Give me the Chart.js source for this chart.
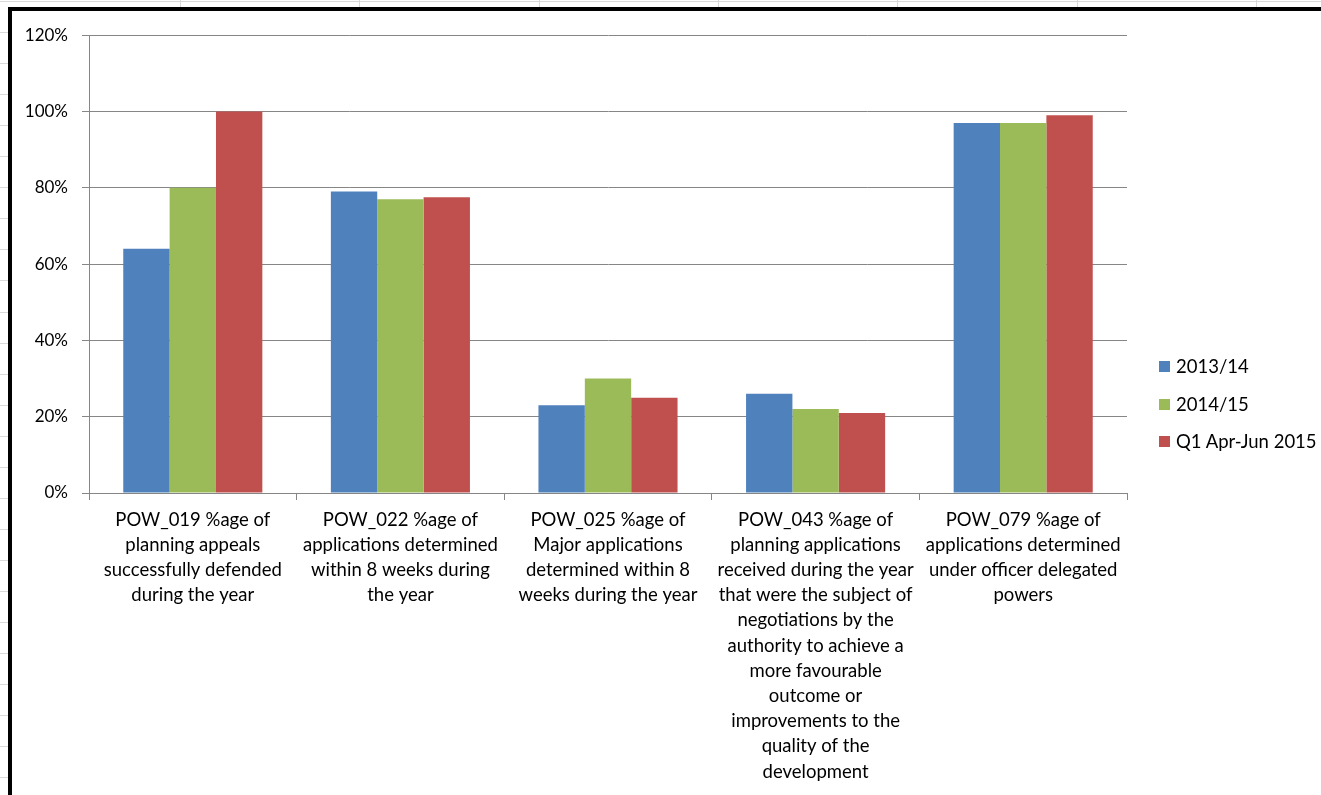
<!DOCTYPE html>
<html>
<head>
<meta charset="utf-8">
<script src="https://cdn.jsdelivr.net/npm/chart.js@4.4.1/dist/chart.umd.min.js"></script>
<style>
    html, body {
        margin: 0;
        padding: 0;
        width: 1321px;
        height: 795px;
        overflow: hidden;
        background: #fff;
        font-family: Lato, sans-serif;
    }
    #sheet { position: absolute; left: 0; top: 0; }
    #frame {
        position: absolute;
        left: 8px;
        top: 7px;
        width: 1400px;
        height: 900px;
        border-left: 4px solid #000;
        border-top: 4px solid #000;
        background: #fff;
    }
    #chart { position: absolute; left: 0; top: 0; }
    #legend { position: absolute; left: 1147px; top: 337px; }
    .legend-item {
        position: relative;
        height: 37.5px;
        line-height: 37.5px;
        font-size: 18.5px;
        color: #000;
        white-space: nowrap;
    }
    .legend-box {
        position: absolute;
        left: 0;
        top: 13px;
        width: 11px;
        height: 11px;
    }
    .legend-text { position: absolute; left: 17px; top: 0; }
</style>
</head>
<body>
<canvas id="sheet" width="1321" height="795"></canvas>
<div id="frame">
    <canvas id="chart" width="1309" height="784"></canvas>
    <div id="legend"></div>
</div>
<script>
// Indicator labels, one array of lines per category
const categories = [
    ['POW_019 %age of', 'planning appeals', 'successfully defended', 'during the year'],
    ['POW_022 %age of', 'applications determined', 'within 8 weeks during', 'the year'],
    ['POW_025 %age of', 'Major applications', 'determined within 8', 'weeks during the year'],
    ['POW_043 %age of', 'planning applications', 'received during the year', 'that were the subject of',
     'negotiations by the', 'authority to achieve a', 'more favourable', 'outcome or',
     'improvements to the', 'quality of the', 'development'],
    ['POW_079 %age of', 'applications determined', 'under officer delegated', 'powers']
];

const seriesNames = ['2013/14', '2014/15', 'Q1 Apr-Jun 2015'];
const seriesColors = ['#4F81BD', '#9BBB59', '#C0504D'];

// Percentages per series
const values2013 = [64, 79, 23, 26, 97];
const values2014 = [80, 77, 30, 22, 97];
const valuesQ1 = [100, 77.5, 25, 21, 99];

const yTicks = [0, 20, 40, 60, 80, 100, 120];

const axisGray = '#868686';
const textColor = '#000';

// Spreadsheet cell grid behind the chart
function drawSheet() {
    const cv = document.getElementById('sheet');
    const ctx = cv.getContext('2d');
    ctx.strokeStyle = '#d9d9d9';
    ctx.lineWidth = 1;
    for (let x = 180; x < cv.width; x += 179.3) {
        const px = Math.round(x) + 0.5;
        ctx.beginPath();
        ctx.moveTo(px, 0);
        ctx.lineTo(px, cv.height);
        ctx.stroke();
    }
    for (let y = 1; y < cv.height; y += 31.05) {
        const py = Math.round(y) + 0.5;
        ctx.beginPath();
        ctx.moveTo(0, py);
        ctx.lineTo(cv.width, py);
        ctx.stroke();
    }
}

function buildLegend() {
    const legend = document.getElementById('legend');
    legend.innerHTML = seriesNames.map((name, i) => `
        <div class="legend-item">
            <span class="legend-box" style="background:${seriesColors[i]}"></span>
            <span class="legend-text">${name}</span>
        </div>
    `).join('');
}

function buildChart() {
    const ctx = document.getElementById('chart');
    const seriesValues = [values2013, values2014, valuesQ1];

    return new Chart(ctx, {
        type: 'bar',
        data: {
            labels: categories,
            datasets: seriesNames.map((name, i) => ({
                label: name,
                data: seriesValues[i],
                backgroundColor: seriesColors[i],
                borderWidth: 0,
                categoryPercentage: 0.67,
                barPercentage: 1
            }))
        },
        options: {
            responsive: false,
            animation: false,
            devicePixelRatio: 1,
            layout: {
                padding: { left: 0, top: 22, right: 194, bottom: 0 }
            },
            plugins: {
                legend: { display: false },
                tooltip: { enabled: false }
            },
            scales: {
                x: {
                    offset: true,
                    grid: {
                        offset: true,
                        drawOnChartArea: false,
                        drawTicks: true,
                        tickLength: 7,
                        color: axisGray
                    },
                    border: { display: true, color: axisGray },
                    ticks: {
                        autoSkip: false,
                        maxRotation: 0,
                        minRotation: 0,
                        padding: 7,
                        color: textColor,
                        font: { family: 'Lato', size: 18.5, lineHeight: 1.362 }
                    },
                    afterFit: (scale) => { scale.height = 302; }
                },
                y: {
                    min: yTicks[0],
                    max: yTicks[yTicks.length - 1],
                    afterBuildTicks: (scale) => {
                        scale.ticks = yTicks.map(v => ({ value: v }));
                    },
                    grid: {
                        color: axisGray,
                        tickLength: 7
                    },
                    border: { display: true, color: axisGray },
                    ticks: {
                        padding: 14,
                        color: textColor,
                        font: { family: 'Lato', size: 17 },
                        callback: (v) => v + '%'
                    },
                    afterFit: (scale) => { scale.width = 77; }
                }
            }
        }
    });
}

drawSheet();
buildLegend();
buildChart();
</script>
</body>
</html>
